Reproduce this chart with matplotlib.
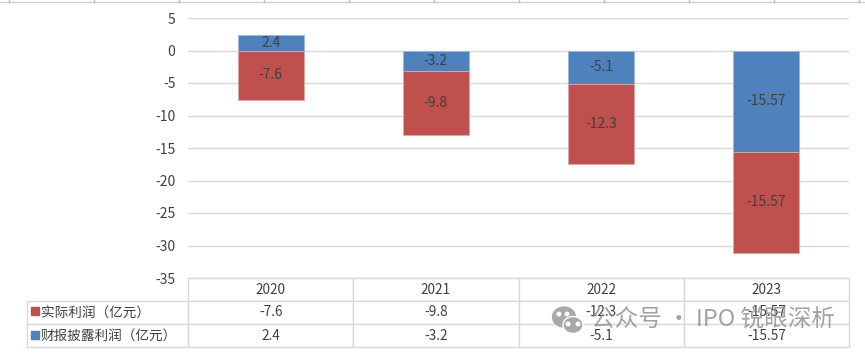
#!/usr/bin/env python3
import matplotlib

matplotlib.use("Agg")  # Use non-interactive backend
import matplotlib.pyplot as plt
from matplotlib.lines import Line2D
from matplotlib.patches import Ellipse, Rectangle
import numpy as np

plt.rcParams["font.family"] = ["Noto Sans CJK SC", "DejaVu Sans"]
plt.rcParams["axes.unicode_minus"] = False

years = ["2020", "2021", "2022", "2023"]
actual_profit = [-7.6, -9.8, -12.3, -15.57]
reported_profit = [2.4, -3.2, -5.1, -15.57]
actual_label = "实际利润（亿元）"
reported_label = "财报披露利润（亿元）"
y_ticks = [5, 0, -5, -10, -15, -20, -25, -30, -35]
watermark = "公众号 · IPO 锐眼深析"

RED = "#C0504D"
BLUE = "#4F81BD"
TEXT = "#404040"
GRID = "#D9D9D9"
W, H = 865, 355


def fx(px):
    return px / W


def fy(py):
    return 1 - py / H


fig = plt.figure(figsize=(W / 100, H / 100), dpi=100)
ax = fig.add_axes([fx(188), fy(278), (849 - 188) / W, (278 - 18) / H])

x = np.arange(len(years))
actual = np.array(actual_profit)
reported = np.array(reported_profit)

# red stacks below the blue bar only when blue is also negative
bottoms = np.where(reported < 0, reported, 0)
ax.bar(x, reported, width=0.4, color=BLUE, edgecolor="#9DB8DA", linewidth=0.6, zorder=3)
ax.bar(x, actual, width=0.4, bottom=bottoms, color=RED, edgecolor="#E0A9A7", linewidth=0.6, zorder=3)

for i in range(len(years)):
    ax.text(i, reported[i] / 2, f"{reported[i]:g}", ha="center", va="center",
            fontsize=10, color=TEXT, zorder=4)
    ax.text(i, bottoms[i] + actual[i] / 2, f"{actual[i]:g}", ha="center", va="center",
            fontsize=10, color=TEXT, zorder=4)

ax.set_xlim(-0.5, 3.5)
ax.set_ylim(-35, 5)
ax.set_yticks(y_ticks)
ax.set_xticks([])
ax.tick_params(axis="y", length=0, labelsize=10, labelcolor=TEXT, pad=9)
ax.grid(axis="y", color=GRID, linewidth=1.0)
ax.set_axisbelow(True)
for side in ax.spines.values():
    side.set_visible(False)

# data table under the plot
table_bottom = (278 - 347) / (278 - 18)
table_height = (347 - 278) / (278 - 18)
table = ax.table(
    cellText=[[f"{v:g}" for v in actual], [f"{v:g}" for v in reported]],
    colLabels=years,
    cellLoc="center",
    bbox=[0, table_bottom, 1, table_height],
)
table.auto_set_font_size(False)

# row labels added by hand so the column keeps a fixed width
row_height = table.get_celld()[(1, 0)].get_height()
for row, label in [(1, actual_label), (2, reported_label)]:
    table.add_cell(row, -1, width=161 / 661, height=row_height, text=label, loc="left")

for (row, col), cell in table.get_celld().items():
    cell.set_edgecolor(GRID)
    cell.set_linewidth(1.0)
    cell.get_text().set_fontsize(9.8)
    cell.get_text().set_color(TEXT)
    if col == -1:
        cell.PAD = 14 / 161

# legend keys in the row label cells
for py, colour in [(311, RED), (335, BLUE)]:
    fig.add_artist(Rectangle((fx(31), fy(py + 4)), 8 / W, 8 / H, color=colour,
                             transform=fig.transFigure, zorder=5))

# leftover sheet ruler along the top edge
fig.add_artist(Line2D([0, 1], [fy(1.5), fy(1.5)], color="#CFCFCF", linewidth=1.0))
for px in range(9, W, 85):
    fig.add_artist(Line2D([fx(px), fx(px)], [fy(0), fy(2)], color="#BBBBBB", linewidth=1.0))

# watermark
icon = "#A9A9A9"
fig.add_artist(Ellipse((fx(564), fy(317)), 23 / W, 20 / H, color=icon, transform=fig.transFigure, zorder=10))
fig.add_artist(Ellipse((fx(573), fy(325)), 20 / W, 17 / H, facecolor=icon, edgecolor="white", linewidth=1,
                       transform=fig.transFigure, zorder=11))
for px, py in [(559, 314), (567, 314), (568, 324), (578, 324)]:
    fig.add_artist(Ellipse((fx(px), fy(py)), 3.5 / W, 3.5 / H, color="white", transform=fig.transFigure, zorder=12))
fig.text(fx(591), fy(320), watermark, fontsize=17, color="#8C8C8C", alpha=0.8,
         ha="left", va="center", zorder=12)

fig.savefig("out.png", dpi=100)
plt.close(fig)
